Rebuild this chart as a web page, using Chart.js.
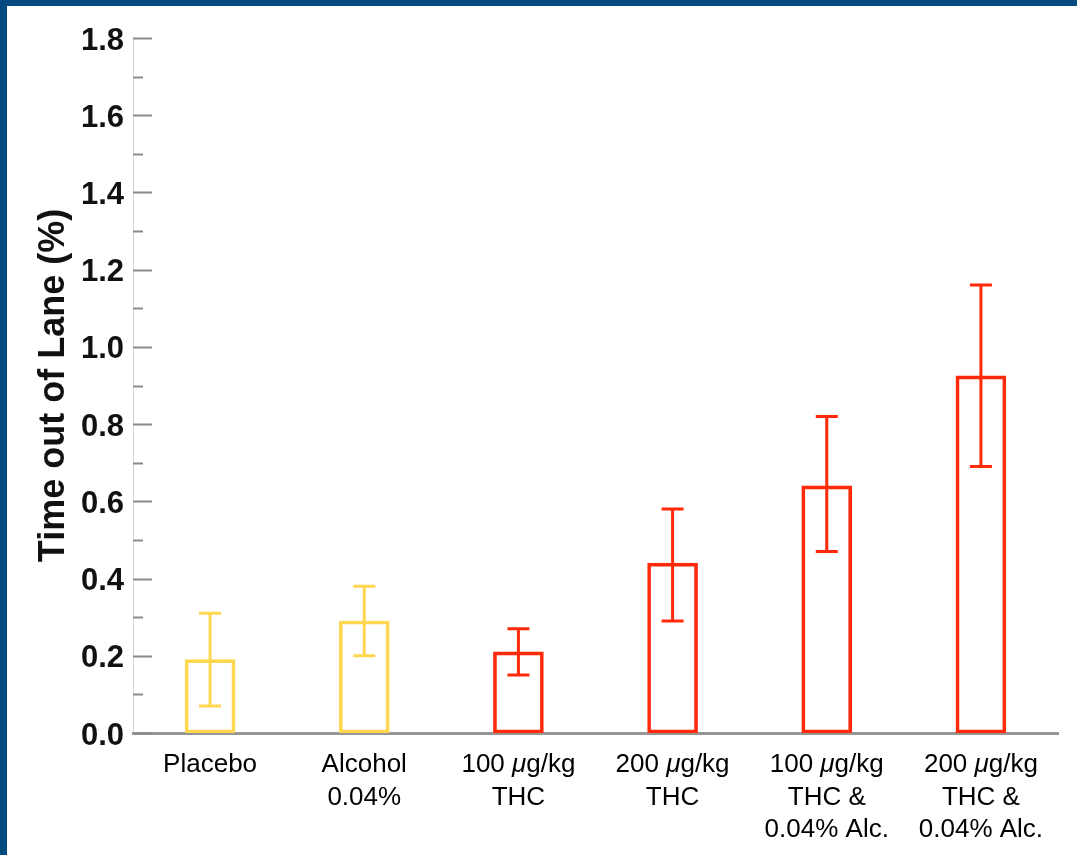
<!DOCTYPE html>
<html lang="en">
<head>
  <meta charset="UTF-8" />
  <title>Time out of Lane</title>
  <script src="https://cdn.jsdelivr.net/npm/chart.js"></script>
  <style>
    html, body {
      margin: 0; padding: 0;
      width: 1077px; height: 855px;
      overflow: hidden;
      background-color: #034a80;
    }
    #wrap {
      position: absolute;
      left: 7px; top: 6px;
      width: 1070px; height: 849px;
      background: #fff;
    }
  </style>
</head>
<body>
  <div id="wrap">
    <canvas id="chartCanvas" width="1070" height="849"></canvas>
  </div>

  <script>
    // conditions, one line of label text per entry
    const CATEGORIES = [
      ["Placebo"],
      ["Alcohol", "0.04%"],
      ["100 μg/kg", "THC"],
      ["200 μg/kg", "THC"],
      ["100 μg/kg", "THC &", "0.04% Alc."],
      ["200 μg/kg", "THC &", "0.04% Alc."]
    ];
    const MEANS    = [0.19, 0.29, 0.21, 0.44, 0.64, 0.925];
    const ERR_HIGH = [0.31, 0.38, 0.27, 0.58, 0.82, 1.16];
    const ERR_LOW  = [0.07, 0.20, 0.15, 0.29, 0.47, 0.69];
    const Y_TICKS  = [0, 0.2, 0.4, 0.6, 0.8, 1.0, 1.2, 1.4, 1.6, 1.8];

    const YELLOW = "#ffd64f";
    const RED = "#ff2a0a";
    const COLORS = [YELLOW, YELLOW, RED, RED, RED, RED];

    // error bars with caps
    const errorBars = {
      id: "errorBars",
      afterDatasetsDraw(chart) {
        const ctx = chart.ctx;
        const y = chart.scales.y;
        const meta = chart.getDatasetMeta(0);
        ctx.save();
        ctx.lineWidth = 3;
        meta.data.forEach((bar, i) => {
          const yh = y.getPixelForValue(ERR_HIGH[i]);
          const yl = y.getPixelForValue(ERR_LOW[i]);
          ctx.strokeStyle = COLORS[i];
          ctx.beginPath();
          ctx.moveTo(bar.x, yh); ctx.lineTo(bar.x, yl);
          ctx.moveTo(bar.x - 11, yh); ctx.lineTo(bar.x + 11, yh);
          ctx.moveTo(bar.x - 11, yl); ctx.lineTo(bar.x + 11, yl);
          ctx.stroke();
        });
        ctx.restore();
      }
    };

    // inward tick marks on the y axis, major every 0.2 and minor every 0.1
    const yTickMarks = {
      id: "yTickMarks",
      afterDraw(chart) {
        const ctx = chart.ctx;
        const y = chart.scales.y;
        const x0 = chart.chartArea.left;
        ctx.save();
        ctx.strokeStyle = "#8a8a8a";
        ctx.lineWidth = 2;
        Y_TICKS.forEach((v, i) => {
          const py = Math.round(y.getPixelForValue(v)) + 0.5;
          ctx.beginPath();
          ctx.moveTo(x0, py); ctx.lineTo(x0 + 19, py);
          ctx.stroke();
          if (i > 0) {
            const pm = Math.round(y.getPixelForValue(v - 0.1)) + 0.5;
            ctx.beginPath();
            ctx.moveTo(x0, pm); ctx.lineTo(x0 + 10, pm);
            ctx.stroke();
          }
        });
        ctx.restore();
      }
    };

    // category labels, with the micro sign in italics
    const xLabels = {
      id: "xLabels",
      afterDraw(chart) {
        const ctx = chart.ctx;
        const xs = chart.scales.x;
        const top = chart.chartArea.bottom + 32;
        const regular = "26px 'Liberation Sans', Arial, sans-serif";
        const italic = "italic 26px 'Liberation Sans', Arial, sans-serif";
        ctx.save();
        ctx.fillStyle = "#000";
        ctx.textBaseline = "middle";
        ctx.textAlign = "left";
        CATEGORIES.forEach((lines, i) => {
          const cx = xs.getPixelForValue(i);
          lines.forEach((line, j) => {
            const parts = line.split(/(μ)/).filter(p => p !== "");
            const widths = parts.map(p => {
              ctx.font = p === "μ" ? italic : regular;
              return ctx.measureText(p).width;
            });
            let x = cx - widths.reduce((a, b) => a + b, 0) / 2;
            const ly = top + j * 32.5;
            parts.forEach((p, k) => {
              ctx.font = p === "μ" ? italic : regular;
              ctx.fillText(p, x, ly);
              x += widths[k];
            });
          });
        });
        ctx.restore();
      }
    };

    new Chart(document.getElementById("chartCanvas"), {
      type: "bar",
      data: {
        labels: CATEGORIES,
        datasets: [{
          data: MEANS,
          backgroundColor: "rgba(255,255,255,0)",
          borderColor: COLORS,
          borderWidth: 3,
          borderSkipped: false,
          barThickness: 50
        }]
      },
      options: {
        responsive: false,
        devicePixelRatio: 1,
        animation: false,
        layout: { padding: { top: 32, right: 19, left: 0, bottom: 0 } },
        plugins: {
          legend: { display: false },
          tooltip: { enabled: false }
        },
        scales: {
          x: {
            grid: { display: false },
            border: { color: "#969696", width: 3 },
            ticks: { display: false },
            afterFit: s => { s.height = 122; }
          },
          y: {
            min: 0,
            max: 1.8,
            grid: { display: false, drawTicks: false },
            border: { color: "#d4d4d4", width: 1 },
            ticks: {
              stepSize: 0.2,
              padding: 9,
              labelOffset: 3,
              color: "#111",
              font: { family: "'Liberation Sans', Arial, sans-serif", size: 31, weight: "bold" },
              callback: v => v.toFixed(1)
            },
            title: {
              display: true,
              text: "Time out of Lane (%)",
              color: "#111",
              padding: { top: 25, bottom: 0 },
              font: { family: "'Liberation Sans', Arial, sans-serif", size: 36, weight: "bold" }
            },
            afterFit: s => { s.width = 126; }
          }
        }
      },
      plugins: [errorBars, yTickMarks, xLabels]
    });
  </script>
</body>
</html>
